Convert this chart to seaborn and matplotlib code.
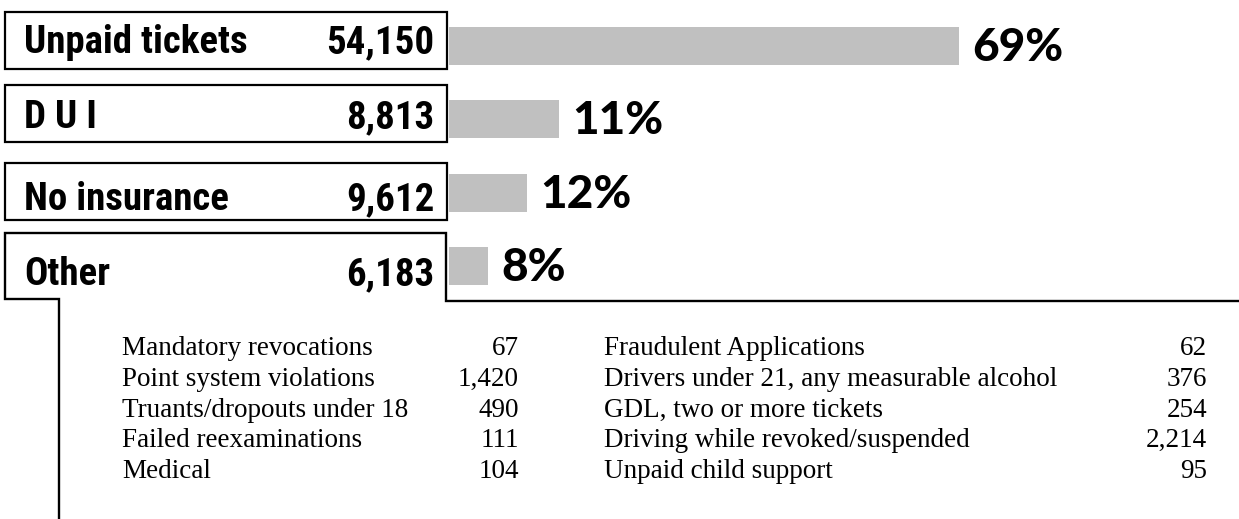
import matplotlib.pyplot as plt
import pandas as pd
import seaborn as sns
from matplotlib.patches import Rectangle

categories = ["Unpaid tickets", "D U I", "No insurance", "Other"]
counts = ["54,150", "8,813", "9,612", "6,183"]
pct_labels = ["69%", "11%", "12%", "8%"]
# bar lengths as drawn in the original graphic (not drawn to scale there)
bar_len = [69, 14.9, 10.6, 5.3]

other_left = ["Mandatory revocations", "Point system violations",
              "Truants/dropouts under 18", "Failed reexaminations", "Medical"]
other_left_n = ["67", "1,420", "490", "111", "104"]
other_right = ["Fraudulent Applications", "Drivers under 21, any measurable alcohol",
               "GDL, two or more tickets", "Driving while revoked/suspended",
               "Unpaid child support"]
other_right_n = ["62", "376", "254", "2,214", "95"]

sns.set_theme(style="white")
plt.rcParams["font.family"] = ["DejaVu Sans"]
plt.rcParams["text.color"] = "black"

W, H = 1239, 519
fig = plt.figure(figsize=(W / 100, H / 100), dpi=100)

# overlay in pixel units for the boxes and text
ov = fig.add_axes([0, 0, 1, 1])
ov.set_xlim(0, W)
ov.set_ylim(H, 0)
ov.axis("off")

# bars
ax = fig.add_axes([449 / W, (H - 303) / H, 739 / W, 294 / H])
df = pd.DataFrame({"cat": categories, "len": bar_len})
sns.barplot(data=df, x="len", y="cat", color="#c0c0c0", saturation=1,
            width=0.52, edgecolor="none", ax=ax)
ax.set_xlim(0, 100)
ax.set_ylim(3.5, -0.5)
ax.axis("off")

label_font = ["Liberation Sans Narrow", "Roboto Condensed", "Liberation Sans", "DejaVu Sans"]
pct_font = ["Lato", "DejaVu Sans"]
serif = ["Liberation Serif", "DejaVu Serif"]

for i, p in enumerate(pct_labels):
    ax.annotate(p, xy=(bar_len[i], i), xytext=(13, -2), textcoords="offset pixels",
                va="center", ha="left", fontsize=33, fontweight="black",
                family=pct_font, color="black")

# boxes
box_top = [12, 85, 163]
box_h = 57
for t in box_top:
    ov.add_patch(Rectangle((5, t), 442, box_h, fill=False, lw=1.6, ec="black"))
# the "Other" tab that opens into the breakdown
ov.plot([59, 59, 5, 5, 446, 446, W], [H, 299, 299, 233, 233, 301, 301],
        color="black", lw=1.7, solid_joinstyle="miter")

text_base = [53, 128, 210, 285]
for i, c in enumerate(categories):
    ov.text(24, text_base[i], c, ha="left", va="baseline", fontsize=28,
            fontweight="heavy", family=label_font, color="black")
    ov.text(434, text_base[i], counts[i], ha="right", va="baseline", fontsize=28,
            fontweight="heavy", family=label_font, color="black")

for j in range(len(other_left)):
    y = 355 + 30.8 * j
    ov.text(122, y, other_left[j], ha="left", va="baseline", fontsize=19.5, family=serif)
    ov.text(519, y, other_left_n[j], ha="right", va="baseline", fontsize=19.5, family=serif)
    ov.text(604, y, other_right[j], ha="left", va="baseline", fontsize=19.5, family=serif)
    ov.text(1207, y, other_right_n[j], ha="right", va="baseline", fontsize=19.5, family=serif)

fig.savefig("out.png", dpi=100)
